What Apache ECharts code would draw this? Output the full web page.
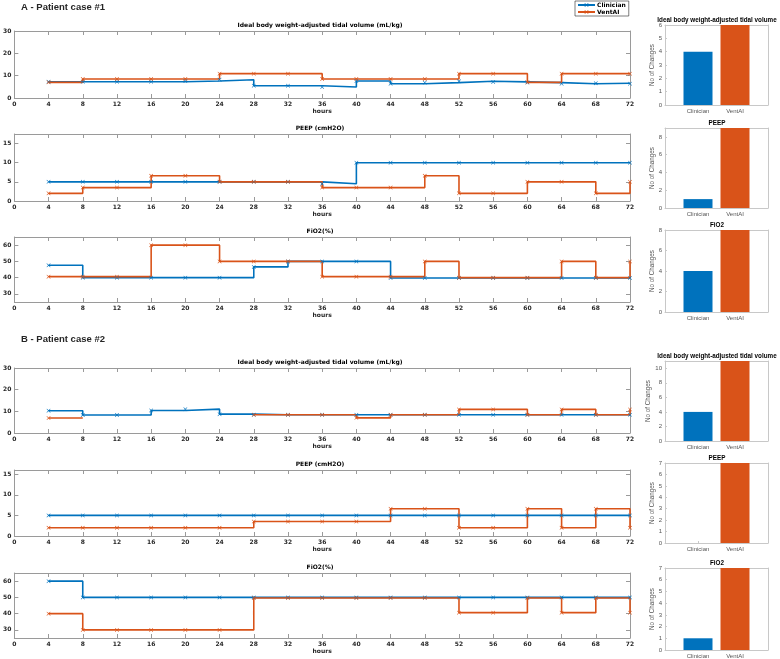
<!DOCTYPE html>
<html><head><meta charset="utf-8">
<script src="https://cdn.jsdelivr.net/npm/echarts@6/dist/echarts.min.js"></script>
<style>html,body{margin:0;padding:0;background:#fff}#c{width:780px;height:659px}</style>
</head><body><div id="c"></div>
<script>
// ---------------- DATA ----------------
const hours = [4,8,12,16,20,24,28,32,36,40,44,48,52,56,60,64,68,72];
const hourTicks = [0,4,8,12,16,20,24,28,32,36,40,44,48,52,56,60,64,68,72];
const seriesNames = ['Clinician','VentAI'];
const barCategories = ['Clinician','VentAI'];

// Patient case #1
const aTvClin   = [7.3,7.3,7.3,7.3,7.6,8.2,5.5,5.5,4.9,7.6,6.4,6.9,7.5,7.2,6.9,6.4,6.6,6.4];
const aTvVent   = [7.0,8.5,8.5,8.5,8.5,10.9,10.9,10.9,8.5,8.5,8.5,8.5,10.9,10.9,7.0,10.9,10.9,10.9];
const aPeepClin = [5,5,5,5,5,5,5,5,4.5,10,10,10,10,10,10,10,10,10];
const aPeepVent = [2,3.5,3.5,6.6,6.6,5,5,5,3.5,3.5,3.5,6.6,2,2,5,5,2,5];
const aFio2Clin = [47.6,40,40,40,40,40,46.6,50,50,50,39.8,39.8,39.8,39.8,39.8,39.8,39.8,39.8];
const aFio2Vent = [40.6,40.6,40.6,60,60,50,50,50,40.6,40.6,40.6,50,40,40,40,50,40,50];
const aChangesClin = [4,1,4];
const aChangesVent = [6,9,8];

// Patient case #2
const bTvClin   = [10.3,8.3,8.3,10.4,11.0,8.7,8.4,8.4,8.4,8.4,8.4,8.4,8.4,8.4,8.4,8.4,8.4,8.4];
const bTvVent   = [6.9,null,null,null,null,null,8.4,8.4,8.4,7.0,8.4,8.4,10.9,10.9,8.4,10.9,8.4,10.9];
const bPeepClin = [5,5,5,5,5,5,5,5,5,5,5,5,5,5,5,5,5,5];
const bPeepVent = [2,2,2,2,2,2,3.5,3.5,3.5,3.5,6.6,6.6,2,2,6.6,2,6.6,2];
const bFio2Clin = [60,50,50,50,50,50,50,50,50,50,50,50,50,50,50,50,50,50];
const bFio2Vent = [40,30,30,30,30,30,49.6,49.6,49.6,49.6,49.6,49.6,40.6,40.6,49.6,40.6,49.6,40.6];
const bChangesClin = [4,0,1];
const bChangesVent = [11,7,7];

const tvTicks = [0,10,20,30];
const peepTicks = [0,5,10,15];
const fio2Ticks = [30,40,50,60];

// ---------------- LAYOUT / STYLE ----------------
const BLUE = '#0072BD', ORANGE = '#D95319';
const XMARK = 'path://M1,0L5,4L9,0L10,1L6,5L10,9L9,10L5,6L1,10L0,9L4,5L0,1Z';
const LF = 'DejaVu Sans', BF = 'Liberation Sans';
const BOX = '#9a9a9a', BARBOX = '#c8c8c8';

const linePanels = [
  {title:'Ideal body weight-adjusted tidal volume (mL/kg)', top:31,  h:67, min:0,  max:30,   ticks:tvTicks,   clin:aTvClin,   vent:aTvVent},
  {title:'PEEP (cmH2O)',                                     top:134, h:67, min:0,  max:17.5, ticks:peepTicks, clin:aPeepClin, vent:aPeepVent},
  {title:'FiO2(%)',                                          top:237, h:65, min:25, max:65,   ticks:fio2Ticks, clin:aFio2Clin, vent:aFio2Vent},
  {title:'Ideal body weight-adjusted tidal volume (mL/kg)', top:368, h:65, min:0,  max:30,   ticks:tvTicks,   clin:bTvClin,   vent:bTvVent},
  {title:'PEEP (cmH2O)',                                     top:470, h:66, min:0,  max:16,   ticks:peepTicks, clin:bPeepClin, vent:bPeepVent},
  {title:'FiO2(%)',                                          top:573, h:65, min:25, max:65,   ticks:fio2Ticks, clin:bFio2Clin, vent:bFio2Vent}
];
const barPanels = [
  {title:'Ideal body weight-adjusted tidal volume', top:25,  h:80, max:6,  ticks:[0,1,2,3,4,5,6],  vals:[aChangesClin[0], aChangesVent[0]]},
  {title:'PEEP',                                     top:128, h:80, max:9,  ticks:[0,2,4,6,8],      vals:[aChangesClin[1], aChangesVent[1]]},
  {title:'FiO2',                                     top:230, h:82, max:8,  ticks:[0,2,4,6,8],      vals:[aChangesClin[2], aChangesVent[2]]},
  {title:'Ideal body weight-adjusted tidal volume', top:361, h:80, max:11, ticks:[0,2,4,6,8,10],   vals:[bChangesClin[0], bChangesVent[0]]},
  {title:'PEEP',                                     top:463, h:80, max:7,  ticks:[0,1,2,3,4,5,6,7],vals:[bChangesClin[1], bChangesVent[1]]},
  {title:'FiO2',                                     top:568, h:82, max:7,  ticks:[0,1,2,3,4,5,6,7],vals:[bChangesClin[2], bChangesVent[2]]}
];

function stairs(xs, ys) {
  const out = [];
  for (let i = 0; i < xs.length; i++) {
    if (ys[i] === null) { out.push({value:[xs[i], '-']}); continue; }
    out.push({value:[xs[i], ys[i]]});
    if (i + 1 < xs.length) out.push({value:[xs[i+1], ys[i]], symbol:'none'});
  }
  return out;
}

const grid = [], xAxis = [], yAxis = [], series = [], graphic = [];

linePanels.forEach((p, k) => {
  const gi = grid.length;
  grid.push({left:11, width:619, top:p.top, height:p.h});
  const xb = xAxis.length;
  xAxis.push({gridIndex:gi, type:'value', position:'bottom', min:0, max:72,
    axisLine:{show:true, onZero:false, lineStyle:{color:BOX, width:1}},
    axisTick:{show:true, inside:true, length:4, customValues:hourTicks, lineStyle:{color:BOX}},
    axisLabel:{customValues:hourTicks, fontFamily:LF, fontSize:6, fontWeight:'bold', color:'#262626', margin:3},
    splitLine:{show:false},
    name:'hours', nameLocation:'middle', nameGap:10,
    nameTextStyle:{fontFamily:LF, fontSize:6, fontWeight:'bold', color:'#262626'}});
  xAxis.push({gridIndex:gi, type:'value', position:'top', min:0, max:72,
    axisLine:{show:true, onZero:false, lineStyle:{color:BOX, width:1}},
    axisTick:{show:true, inside:true, length:4, customValues:hourTicks, lineStyle:{color:BOX}},
    axisLabel:{show:false}, splitLine:{show:false}});
  const yb = yAxis.length;
  yAxis.push({gridIndex:gi, type:'value', position:'left', min:p.min, max:p.max,
    axisLine:{show:true, onZero:false, lineStyle:{color:BOX, width:1}},
    axisTick:{show:true, inside:true, length:4, customValues:p.ticks, lineStyle:{color:BOX}},
    axisLabel:{customValues:p.ticks, fontFamily:LF, fontSize:6, fontWeight:'bold', color:'#262626', margin:3},
    splitLine:{show:false}});
  yAxis.push({gridIndex:gi, type:'value', position:'right', min:p.min, max:p.max,
    axisLine:{show:true, onZero:false, lineStyle:{color:BOX, width:1}},
    axisTick:{show:true, inside:true, length:4, customValues:p.ticks, lineStyle:{color:BOX}},
    axisLabel:{show:false}, splitLine:{show:false}});
  [[p.clin, BLUE, seriesNames[0]], [p.vent, ORANGE, seriesNames[1]]].forEach(([ys, col, nm]) => {
    series.push({type:'line', name:nm, xAxisIndex:xb, yAxisIndex:yb, data:stairs(hours, ys),
      color:col, symbol:XMARK, symbolSize:4, showSymbol:true, connectNulls:false,
      lineStyle:{color:col, width:1.6}, itemStyle:{color:col}, animation:false, silent:true});
  });
  graphic.push({type:'text', x:320, y:p.top - 6, silent:true,
    style:{text:p.title, font:'bold 6px "DejaVu Sans"', fill:'#000', textAlign:'center', textVerticalAlign:'middle'}});
});

barPanels.forEach((p, k) => {
  const gi = grid.length;
  grid.push({left:665, width:103, top:p.top, height:p.h});
  const xb = xAxis.length;
  xAxis.push({gridIndex:gi, type:'value', position:'bottom', min:0.108, max:2.892,
    axisLine:{show:true, onZero:false, lineStyle:{color:BARBOX}},
    axisTick:{show:true, inside:true, length:2, customValues:[1,2], lineStyle:{color:BARBOX}},
    axisLabel:{customValues:[1,2], formatter:v => barCategories[Math.round(v)-1] || '',
      fontFamily:BF, fontSize:6, color:'#555', margin:3},
    splitLine:{show:false}});
  xAxis.push({gridIndex:gi, type:'value', position:'top', min:0.108, max:2.892,
    axisLine:{show:true, onZero:false, lineStyle:{color:BARBOX}},
    axisTick:{show:false}, axisLabel:{show:false}, splitLine:{show:false}});
  const yb = yAxis.length;
  yAxis.push({gridIndex:gi, type:'value', position:'left', min:0, max:p.max,
    axisLine:{show:true, onZero:false, lineStyle:{color:BARBOX}},
    axisTick:{show:true, inside:true, length:2, customValues:p.ticks, lineStyle:{color:BARBOX}},
    axisLabel:{customValues:p.ticks, fontFamily:BF, fontSize:6, color:'#555', margin:3},
    splitLine:{show:false},
    name:'No of Changes', nameLocation:'middle', nameGap:3,
    nameTextStyle:{fontFamily:BF, fontSize:6.3, color:'#555'}});
  yAxis.push({gridIndex:gi, type:'value', position:'right', min:0, max:p.max,
    axisLine:{show:true, onZero:false, lineStyle:{color:BARBOX}},
    axisTick:{show:false}, axisLabel:{show:false}, splitLine:{show:false}});
  series.push({type:'bar', xAxisIndex:xb, yAxisIndex:yb, barWidth:29, animation:false, silent:true,
    data:[{value:[1, p.vals[0]], itemStyle:{color:BLUE}}, {value:[2, p.vals[1]], itemStyle:{color:ORANGE}}]});
  graphic.push({type:'text', x:717, y:p.top - 4.5, silent:true,
    style:{text:p.title, font:'bold 6.3px "Liberation Sans"', fill:'#000', textAlign:'center', textVerticalAlign:'middle'}});
});

graphic.push({type:'text', x:21, y:7, silent:true,
  style:{text:'A - Patient case #1', font:'bold 9.5px "Liberation Sans"', fill:'#262626', textVerticalAlign:'middle'}});
graphic.push({type:'text', x:21, y:339, silent:true,
  style:{text:'B - Patient case #2', font:'bold 9.5px "Liberation Sans"', fill:'#262626', textVerticalAlign:'middle'}});

const option = {
  backgroundColor:'#fff',
  animation:false,
  grid, xAxis, yAxis, series, graphic,
  legend:{data:seriesNames, orient:'vertical', left:575, top:1, itemWidth:17, itemHeight:5, itemGap:1,
    padding:[1,3,1,2], borderColor:'#262626', borderWidth:0.6, backgroundColor:'#fff',
    textStyle:{fontFamily:LF, fontSize:6, fontWeight:'bold', color:'#000', padding:[0,0,0,-3]}, selectedMode:false}
};
const chart = echarts.init(document.getElementById('c'));
chart.setOption(option);
</script>
</body></html>
